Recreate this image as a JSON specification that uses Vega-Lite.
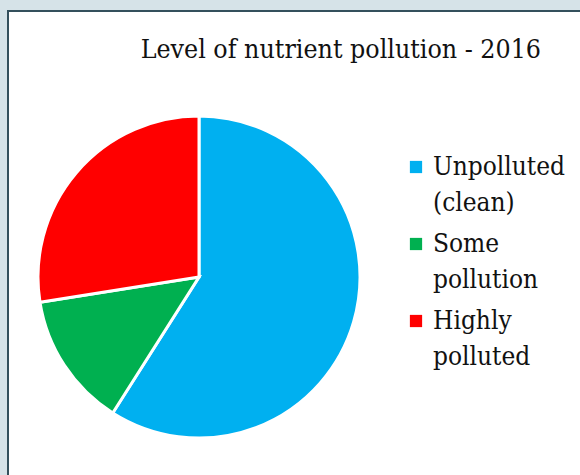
{
  "$schema": "https://vega.github.io/schema/vega-lite/v6.json",
  "width": 580,
  "height": 475,
  "autosize": {"type": "fit", "contains": "padding"},
  "padding": {"left": 8, "top": 11, "right": -3, "bottom": -3},
  "background": "#d6e3e8",
  "view": {"fill": "white", "stroke": "#34505c", "strokeWidth": 2},
  "title": {
    "text": "Level of nutrient pollution - 2016",
    "anchor": "end",
    "dx": -42,
    "offset": -52,
    "font": "DejaVu Serif Condensed",
    "fontSize": 26.5,
    "fontWeight": "normal",
    "color": "#111111"
  },
  "data": {
    "values": [
      {"level": "Unpolluted (clean)", "share": 59, "rank": 1},
      {"level": "Some pollution", "share": 13.5, "rank": 2},
      {"level": "Highly polluted", "share": 27.5, "rank": 3}
    ]
  },
  "mark": {"type": "arc", "radius": 161, "x": 191, "y": 266, "stroke": "white", "strokeWidth": 3},
  "encoding": {
    "theta": {"field": "share", "type": "quantitative", "stack": true},
    "order": {"field": "rank", "type": "quantitative"},
    "color": {
      "field": "level",
      "type": "nominal",
      "scale": {
        "domain": ["Unpolluted (clean)", "Some pollution", "Highly polluted"],
        "range": ["#00b0f0", "#00b050", "#ff0000"]
      },
      "legend": {
        "title": null,
        "orient": "none",
        "legendX": 395,
        "legendY": 143,
        "symbolType": "square",
        "symbolSize": 150,
        "symbolStrokeWidth": 0,
        "labelFont": "DejaVu Serif Condensed",
        "labelFontSize": 26,
        "labelColor": "#111111",
        "labelLimit": 300,
        "labelOffset": 4,
        "rowPadding": 15,
        "labelExpr": "split(datum.label, ' ')"
      }
    }
  },
  "config": {
    "style": {"guide-label": {"lineHeight": 36}}
  }
}
